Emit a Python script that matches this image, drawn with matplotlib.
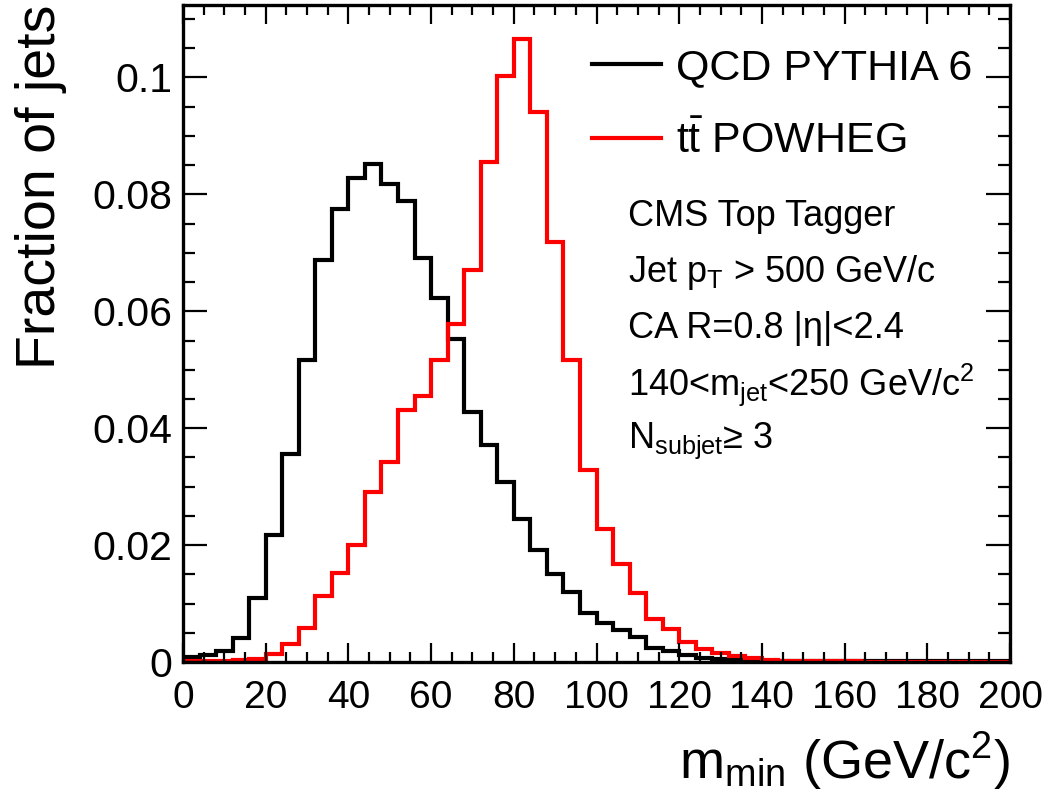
import numpy as np
import matplotlib.pyplot as plt
from matplotlib.ticker import MultipleLocator

plt.rcParams['font.family'] = ['Liberation Sans', 'DejaVu Sans']
plt.rcParams['mathtext.fontset'] = 'custom'
plt.rcParams['mathtext.rm'] = 'Liberation Sans'
plt.rcParams['mathtext.it'] = 'Liberation Sans:italic'

# Binning: 50 bins of 4 GeV between 0 and 200
edges = np.arange(0, 201, 4)

# QCD PYTHIA 6 (black)
qcd = [0.0008, 0.0012, 0.0018, 0.0041, 0.0109, 0.0217, 0.0356, 0.0516, 0.0688, 0.0775,
       0.0828, 0.0852, 0.0817, 0.0789, 0.0691, 0.0623, 0.0552, 0.0428, 0.0371, 0.0308,
       0.0245, 0.0191, 0.0151, 0.0120, 0.0084, 0.0067, 0.0054, 0.0042, 0.0024, 0.0019,
       0.0012, 0.0007, 0.0005, 0.0003, 0.0003, 0.0002, 0.0002, 0.0002, 0.0002, 0.0002,
       0.0002, 0.0002, 0.0002, 0.0002, 0.0001, 0.0001, 0.0001, 0.0001, 0.0001, 0.0001]

# ttbar POWHEG (red)
ttbar = [0.0001, 0.0001, 0.0001, 0.0003, 0.0005, 0.0014, 0.0031, 0.0059, 0.0113, 0.0153,
         0.0201, 0.0290, 0.0343, 0.0431, 0.0455, 0.0517, 0.0578, 0.0671, 0.0856, 0.1002,
         0.1066, 0.0941, 0.0718, 0.0516, 0.0329, 0.0227, 0.0167, 0.0118, 0.0074, 0.0056,
         0.0035, 0.0023, 0.0015, 0.0010, 0.0006, 0.0003, 0.0002, 0.0001, 0.0001, 0.0001,
         0.0001, 0.0, 0.0, 0.0, 0.0, 0.0, 0.0, 0.0, 0.0, 0.0]

labels = ['QCD PYTHIA 6', r't$\bar{\mathrm{t}}$ POWHEG']
info = ['CMS Top Tagger',
        r'Jet p$_{\mathrm{T}}$ > 500 GeV/c',
        'CA R=0.8 |η|<2.4',
        r'140<m$_{\mathrm{jet}}$<250 GeV/c$^{2}$',
        r'N$_{\mathrm{subjet}}$≥ 3']

fig = plt.figure(figsize=(10.54, 7.99), dpi=100)
ax = fig.add_axes([183 / 1054, 1 - 662 / 799, (1010 - 183) / 1054, (662 - 5) / 799])

ax.stairs(qcd, edges, color='black', linewidth=3.0, label=labels[0])
ax.stairs(ttbar, edges, color='#ff0000', linewidth=3.0, label=labels[1])

ax.set_xlim(0, 200)
ax.set_ylim(0, 0.1124)

ax.xaxis.set_major_locator(MultipleLocator(20))
ax.xaxis.set_minor_locator(MultipleLocator(5))
ax.yaxis.set_major_locator(MultipleLocator(0.02))
ax.yaxis.set_minor_locator(MultipleLocator(0.005))
ax.set_yticks([0, 0.02, 0.04, 0.06, 0.08, 0.1])
ax.set_yticklabels(['0', '0.02', '0.04', '0.06', '0.08', '0.1'])

ax.tick_params(which='both', direction='in', top=True, right=True, width=1.6)
ax.tick_params(axis='x', which='major', length=14, pad=13, labelsize=28)
ax.tick_params(axis='x', which='minor', length=7)
ax.tick_params(axis='y', which='major', length=17, pad=8, labelsize=29.5)
ax.tick_params(axis='y', which='minor', length=8.5)
for s in ax.spines.values():
    s.set_linewidth(2.4)

ax.set_xlabel(r'm$_{\mathrm{min}}$ (GeV/c$^{2}$)', fontsize=39, loc='right', labelpad=10)
ax.set_ylabel('Fraction of jets', fontsize=40, loc='top', labelpad=18)

ax.legend(loc='upper left', bbox_to_anchor=(575 / 1054, 1 - 31 / 799), bbox_transform=fig.transFigure,
          frameon=False, fontsize=31, handlelength=1.6, handletextpad=0.35, labelspacing=0.78,
          borderaxespad=0)

for i, line in enumerate(info):
    fig.text(628 / 1054, 1 - (217 + 56 * i) / 799, line, fontsize=26, va='center', ha='left')

fig.savefig('out.png', dpi=100)
